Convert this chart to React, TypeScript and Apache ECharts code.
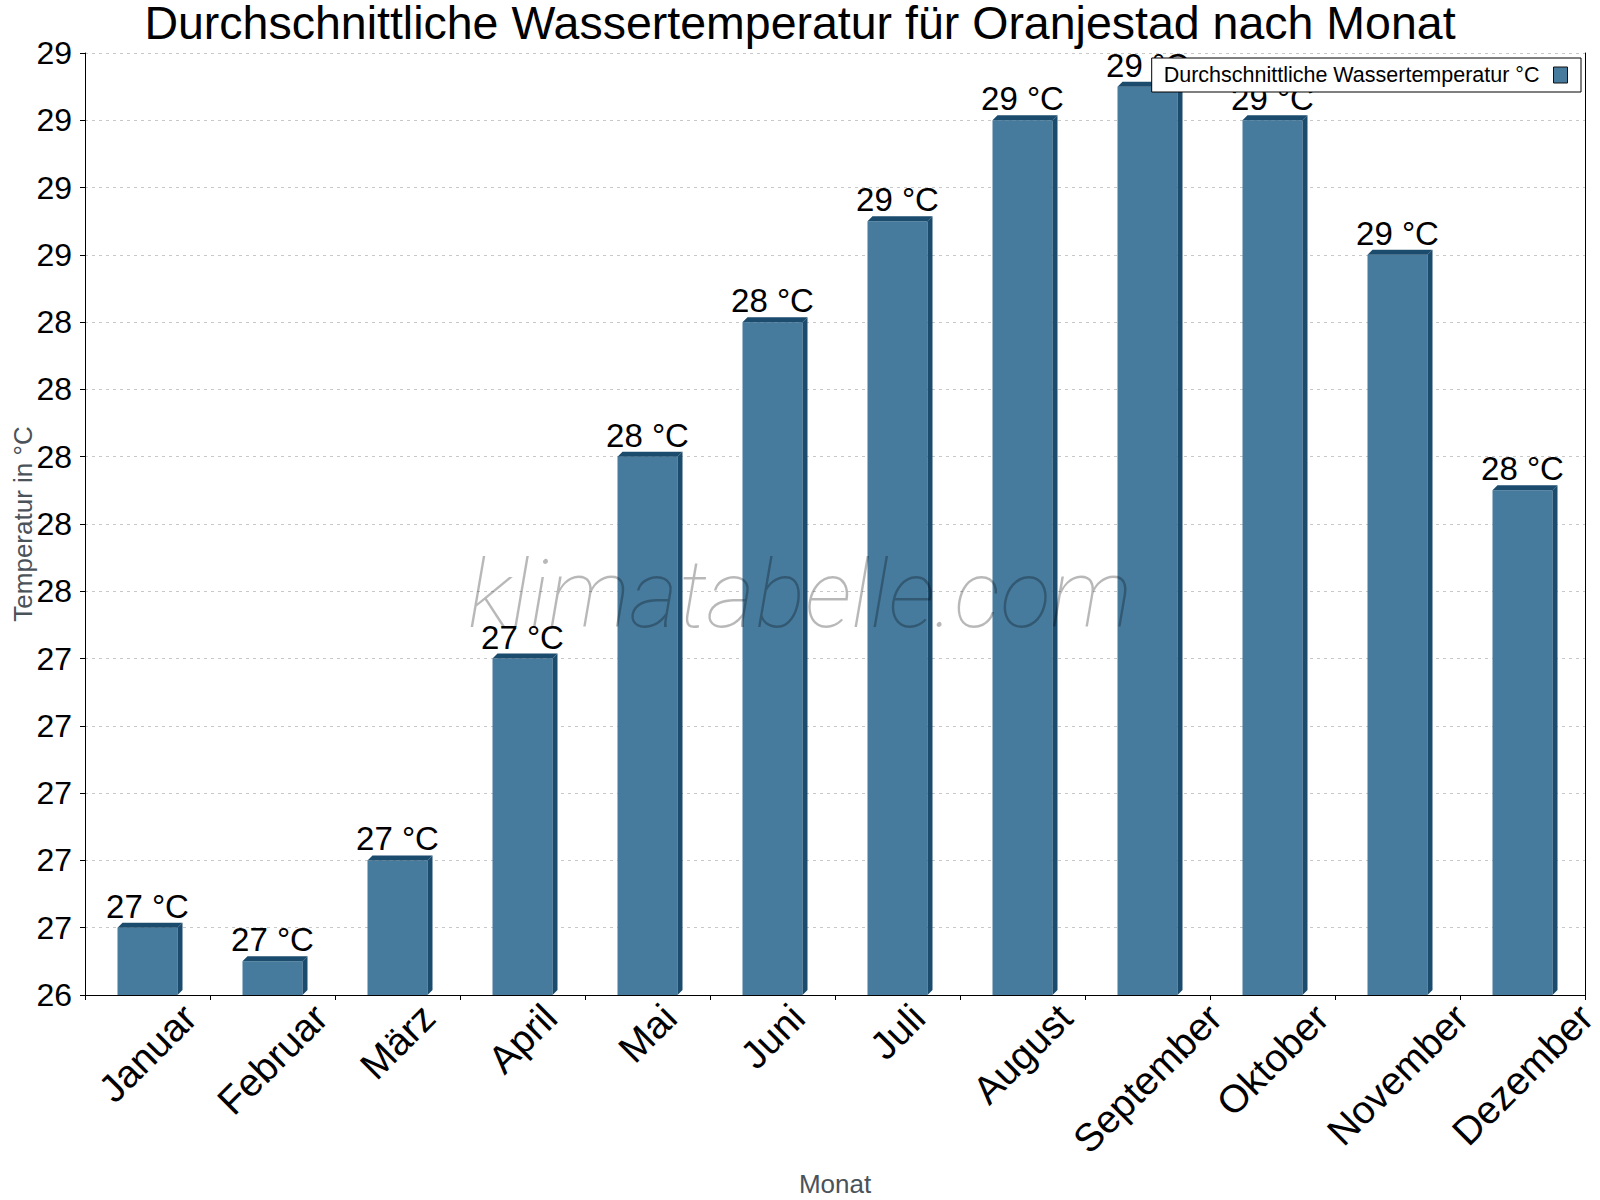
import React, { useEffect, useRef } from "react";
import * as echarts from "echarts";

const months = ["Januar", "Februar", "März", "April", "Mai", "Juni", "Juli", "August", "September", "Oktober", "November", "Dezember"];
const waterTemp = [26.6, 26.5, 26.8, 27.4, 28.0, 28.4, 28.7, 29.0, 29.1, 29.0, 28.6, 27.9];
const seriesName = "Durchschnittliche Wassertemperatur °C";
const titleText = "Durchschnittliche Wassertemperatur für Oranjestad nach Monat";
const yMin = 26.4;
const yMax = 29.2;
const yStep = 0.2;

const FACE = "#467b9e";
const DARK = "#1b4b6d";
const FONT = "'Liberation Sans', Arial, Helvetica, sans-serif";
const XLABEL_SIZE = 39;

function measure(text: string, font: string): number {
  const c = document.createElement("canvas").getContext("2d");
  if (!c) return text.length * 18;
  c.font = font;
  return c.measureText(text).width;
}

export default function App() {
  const ref = useRef<HTMLDivElement>(null);
  useEffect(() => {
    document.body.style.margin = "0";
    if (!ref.current) return;
    const chart = echarts.init(ref.current, null, { renderer: "svg" });
    const rich: Record<string, any> = {};
    months.forEach((m, i) => {
      const w = measure(m, `${XLABEL_SIZE}px Liberation Sans`);
      rich["m" + i] = {
        fontSize: XLABEL_SIZE,
        fontFamily: FONT,
        color: "#000",
        padding: [w / 2, w / 2, 0, 0],
      };
    });
    const option = {
      animation: false,
      backgroundColor: "#ffffff",
      textStyle: { fontFamily: FONT },
      title: {
        text: titleText,
        left: "center",
        top: 3,
        padding: 0,
        textStyle: { fontSize: 46.5, lineHeight: 40, fontWeight: "normal", color: "#000", fontFamily: FONT },
      },
      legend: {
        right: 19,
        top: 58,
        align: "right",
        orient: "horizontal",
        backgroundColor: "#fff",
        borderColor: "#000",
        borderWidth: 1,
        borderRadius: 0,
        padding: [6, 13, 6, 12],
        itemWidth: 14,
        itemHeight: 16,
        icon: "rect",
        itemStyle: { color: FACE, borderColor: "#111", borderWidth: 1 },
        textStyle: { fontSize: 21.5, color: "#000", fontFamily: FONT, padding: [0, 9, 0, 0] },
        data: [seriesName],
        z: 10,
      },
      grid: { left: 85, right: 15, top: 53, bottom: 205, containLabel: false, outerBoundsMode: "none" },
      xAxis: {
        type: "category",
        data: months,
        boundaryGap: true,
        name: "Monat",
        nameLocation: "middle",
        nameGap: 176,
        nameTextStyle: { fontSize: 26, color: "#4a525a", fontFamily: FONT },
        axisLine: { show: true, lineStyle: { color: "#000", width: 1 } },
        axisTick: { show: true, length: 5, lineStyle: { color: "#000" } },
        axisLabel: {
          rotate: 45,
          align: "center",
          verticalAlign: "middle",
          margin: 16,
          interval: 0,
          formatter: (v: string, i: number) => `{m${i}|${v}}`,
          rich,
        },
        splitLine: { show: false },
      },
      yAxis: [
        {
          type: "value",
          min: yMin,
          max: yMax,
          interval: yStep,
          name: "Temperatur in °C",
          nameLocation: "middle",
          nameGap: 49,
          nameMoveOverlap: false,
          nameRotate: 90,
          nameTextStyle: { fontSize: 26, color: "#4a525a", fontFamily: FONT },
          axisLine: { show: true, lineStyle: { color: "#000", width: 1 } },
          axisTick: { show: true, length: 5, lineStyle: { color: "#000" } },
          axisLabel: {
            fontSize: 32,
            color: "#000",
            margin: 13,
            fontFamily: FONT,
            formatter: (v: number) => String(Math.round(v)),
          },
          splitLine: { show: true, lineStyle: { color: "#c8c8c8", type: [3, 4], width: 1 } },
        },
        {
          type: "value",
          min: yMin,
          max: yMax,
          interval: yStep,
          position: "right",
          axisLine: { show: true, onZero: false, lineStyle: { color: "#000", width: 1 } },
          axisTick: { show: false },
          axisLabel: { show: false },
          splitLine: { show: false },
        },
      ],
      graphic: [
        {
          type: "text",
          left: "center",
          top: 548,
          z: 100,
          silent: true,
          style: {
            text: "klimatabelle.com",
            font: "italic 100 94px Roboto, sans-serif",
            fill: "rgba(0,0,0,0.28)",
          },
        },
      ],
      series: [
        {
          name: seriesName,
          type: "custom",
          itemStyle: { color: FACE },
          encode: { x: 0, y: 1 },
          data: waterTemp.map((v, i) => [i, v]),
          renderItem: (params: any, api: any) => {
            const idx = api.value(0);
            const val = api.value(1);
            const top = api.coord([idx, val]);
            const base = api.coord([idx, yMin]);
            const bw = api.size([1, 0])[0] * 0.48;
            const d = 5;
            const x0 = top[0] - bw / 2;
            const x1 = x0 + bw;
            const ty = top[1];
            const by = base[1];
            return {
              type: "group",
              children: [
                { type: "rect", shape: { x: x0, y: ty, width: bw, height: by - ty }, style: { fill: FACE } },
                {
                  type: "polygon",
                  shape: { points: [[x0, ty], [x0 + d, ty - d], [x1 + d, ty - d], [x1, ty]] },
                  style: { fill: DARK },
                },
                {
                  type: "polygon",
                  shape: { points: [[x1, ty], [x1 + d, ty - d], [x1 + d, by - d], [x1, by]] },
                  style: { fill: DARK },
                },
                {
                  type: "text",
                  x: top[0],
                  y: ty - d,
                  style: {
                    text: Math.round(val) + " °C",
                    textAlign: "center",
                    textVerticalAlign: "bottom",
                    font: "33px " + FONT,
                    fill: "#000",
                  },
                },
              ],
            };
          },
        },
      ],
    };
    chart.setOption(option as any);
    return () => chart.dispose();
  }, []);
  return <div ref={ref} style={{ width: 1600, height: 1200 }} />;
}
